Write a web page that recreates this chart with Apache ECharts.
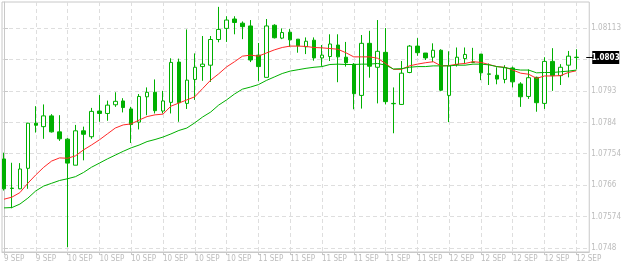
<!DOCTYPE html>
<html><head><meta charset="utf-8">
<script src="https://cdn.jsdelivr.net/npm/echarts@6/dist/echarts.min.js"></script>
<style>html,body{margin:0;padding:0;background:#fff}#c{width:624px;height:266px}</style>
</head><body><div id="c"></div>
<script>
const opens = [1.07737,1.07653,1.07651,1.07710,1.07840,1.07830,1.07861,1.07815,1.07794,1.07719,
1.07818,1.07801,1.07875,1.07868,1.07893,1.07904,1.07881,1.07843,1.07916,1.07929,
1.07875,1.07900,1.08016,1.07897,1.07966,1.08003,1.08007,1.08081,1.08113,1.08140,
1.08128,1.08120,1.08036,1.07972,1.08122,1.08085,1.08102,1.08082,1.08060,1.08079,
1.08028,1.08032,1.08065,1.08030,1.08010,1.07920,1.08070,1.08001,1.08044,1.07897,
1.07894,1.07986,1.08062,1.08042,1.08030,1.08050,1.07920,1.08009,1.08026,1.08016,
1.08039,1.07982,1.07978,1.07966,1.07999,1.07953,1.07917,1.07972,1.07897,1.08018,
1.07977,1.08007,1.08029];
const closes = [1.07651,1.07652,1.07708,1.07840,1.07834,1.07861,1.07815,1.07795,1.07725,1.07818,
1.07808,1.07874,1.07868,1.07892,1.07903,1.07885,1.07836,1.07917,1.07929,1.07876,
1.07904,1.08015,1.07899,1.07964,1.08001,1.08010,1.08081,1.08110,1.08137,1.08130,
1.08118,1.08022,1.08003,1.08120,1.08086,1.08101,1.08080,1.08063,1.08076,1.08028,
1.08036,1.08068,1.08031,1.08014,1.07925,1.08070,1.08004,1.08047,1.07902,1.07896,
1.07984,1.08062,1.08043,1.08028,1.08050,1.07935,1.08005,1.08030,1.08038,1.08015,
1.07985,1.07981,1.07967,1.08000,1.07959,1.07916,1.07971,1.07899,1.08018,1.07977,
1.08001,1.08033,1.08030];
const highs = [1.07755,1.07726,1.07725,1.07841,1.07889,1.07894,1.07866,1.07863,1.07797,1.07835,
1.07830,1.07884,1.07921,1.07905,1.07929,1.07912,1.07887,1.07924,1.07943,1.07966,
1.07933,1.08027,1.08026,1.08110,1.08041,1.08091,1.08091,1.08175,1.08148,1.08148,
1.08133,1.08137,1.08071,1.08140,1.08125,1.08113,1.08111,1.08082,1.08087,1.08087,
1.08065,1.08096,1.08096,1.08074,1.08013,1.08094,1.08106,1.08137,1.08114,1.07943,
1.08019,1.08065,1.08085,1.08042,1.08070,1.08053,1.08047,1.08058,1.08058,1.08057,
1.08039,1.08012,1.08001,1.08007,1.08003,1.07958,1.07995,1.07974,1.08030,1.08056,
1.08010,1.08048,1.08053];
const lows = [1.07646,1.07595,1.07650,1.07651,1.07813,1.07795,1.07813,1.07789,1.07483,1.07719,
1.07733,1.07795,1.07844,1.07847,1.07887,1.07871,1.07783,1.07822,1.07863,1.07868,
1.07868,1.07868,1.07844,1.07881,1.07907,1.07962,1.07959,1.08073,1.08074,1.08096,
1.08082,1.08016,1.07961,1.07972,1.08084,1.08082,1.08060,1.08043,1.08039,1.08020,
1.08005,1.08019,1.07958,1.08003,1.07880,1.07882,1.07971,1.07897,1.07894,1.07811,
1.07893,1.07984,1.08034,1.08022,1.08016,1.07932,1.07843,1.08003,1.08010,1.08013,
1.07964,1.07950,1.07952,1.07955,1.07943,1.07887,1.07910,1.07873,1.07881,1.07933,
1.07950,1.07972,1.07995];
const maRed = [1.07621,1.07627,1.07640,1.07667,1.07691,1.07713,1.07731,1.07740,1.07739,1.07746,
1.07763,1.07777,1.07792,1.07809,1.07826,1.07835,1.07838,1.07849,1.07859,1.07864,
1.07866,1.07889,1.07898,1.07907,1.07916,1.07940,1.07964,1.07982,1.08002,1.08017,
1.08033,1.08036,1.08033,1.08042,1.08051,1.08058,1.08062,1.08062,1.08061,1.08058,
1.08057,1.08055,1.08053,1.08043,1.08031,1.08031,1.08031,1.08027,1.08012,1.07995,
1.07995,1.08005,1.08010,1.08014,1.08017,1.08005,1.08006,1.08010,1.08012,1.08017,
1.08015,1.08009,1.08003,1.08001,1.07993,1.07984,1.07981,1.07969,1.07976,1.07976,
1.07977,1.07986,1.07991];
const maGreen = [1.07596,1.07597,1.07607,1.07624,1.07645,1.07659,1.07667,1.07675,1.07680,1.07686,
1.07698,1.07713,1.07725,1.07737,1.07748,1.07759,1.07769,1.07777,1.07787,1.07793,
1.07800,1.07809,1.07819,1.07826,1.07841,1.07858,1.07872,1.07892,1.07907,1.07924,
1.07938,1.07944,1.07951,1.07963,1.07973,1.07983,1.07990,1.07994,1.07998,1.08001,
1.08003,1.08009,1.08010,1.08009,1.08009,1.08010,1.08010,1.08012,1.08007,1.07996,
1.07997,1.08001,1.08003,1.08003,1.08005,1.08005,1.08005,1.08007,1.08007,1.08010,
1.08010,1.08008,1.08003,1.08000,1.07996,1.07993,1.07993,1.07985,1.07986,1.07986,
1.07988,1.07990,1.07993];
const xTickValues = [0,4,8,12,16,20,24,28,32,36,40,44,48,52,56,60,64,68,72];
const xLabels = ["9 SEP","9 SEP","10 SEP","10 SEP","10 SEP","10 SEP","10 SEP","10 SEP","11 SEP","11 SEP",
"11 SEP","11 SEP","11 SEP","11 SEP","12 SEP","12 SEP","12 SEP","12 SEP","12 SEP"];
const yTickValues = [1.0748,1.07571,1.07661,1.07752,1.07842,1.07933,1.08023,1.08113];
const yLabels = ["1.0748","1.07574","1.0766","1.07754","1.0784","1.0793","1.0802","1.08113"];
const lastPriceLabel = "1.0803";

const GREEN = '#00b000', RED = '#ff2828', GRAY = '#c8c8c8', LBL = '#bcbcbc';
const FONT = '"Liberation Sans Narrow","DejaVu Sans Condensed",sans-serif';

const candleData = opens.map((o, i) => [i, o, closes[i], lows[i], highs[i]]);
const redData = maRed.map((v, i) => [i, v]);
const greenData = maGreen.map((v, i) => [i, v]);

const chart = echarts.init(document.getElementById('c'), null, {renderer: 'canvas'});
chart.setOption({
  animation: false,
  backgroundColor: '#ffffff',
  grid: {left: 2, right: 31, top: 2, bottom: 14, show: true, borderColor: GRAY, borderWidth: 1, backgroundColor: '#fff'},
  xAxis: {
    type: 'value', min: -0.25, max: 73.625,
    axisLine: {show: true, onZero: false, lineStyle: {color: GRAY}},
    axisTick: {show: true, length: 3, customValues: xTickValues, lineStyle: {color: GRAY}},
    axisLabel: {customValues: xTickValues, formatter: v => xLabels[xTickValues.indexOf(v)],
      align: 'left', margin: 3, color: LBL, fontSize: 8, fontFamily: FONT},
    splitLine: {show: true, lineStyle: {color: '#dedede', type: [4, 3]}}
  },
  yAxis: {
    type: 'value', position: 'right', min: 1.07469, max: 1.08189, scale: true,
    axisLine: {show: true, lineStyle: {color: GRAY}},
    axisTick: {show: true, inside: false, length: 4, customValues: yTickValues, lineStyle: {color: GRAY}},
    axisLabel: {customValues: yTickValues, formatter: v => yLabels[yTickValues.indexOf(v)],
      margin: 2, color: LBL, fontSize: 8, fontFamily: FONT},
    splitLine: {show: true, lineStyle: {color: '#dedede', type: [4, 3]}}
  },
  series: [
    {type: 'candlestick', data: candleData, encode: {x: 0, y: [1, 2, 3, 4]}, barWidth: 4,
     itemStyle: {color: '#ffffff', color0: GREEN, borderColor: GREEN, borderColor0: GREEN, borderWidth: 1}, z: 2},
    {type: 'line', data: redData, showSymbol: false, symbol: 'none', lineStyle: {color: RED, width: 1}, z: 3},
    {type: 'line', data: greenData, showSymbol: false, symbol: 'none', lineStyle: {color: GREEN, width: 1}, z: 3}
  ]
});

const lastClose = closes[closes.length - 1];
const py = Math.round(chart.convertToPixel({yAxisIndex: 0}, lastClose));
const px = chart.convertToPixel({xAxisIndex: 0}, 73.625);
chart.setOption({
  graphic: [
    {type: 'line', z: 100, shape: {x1: px - 3, y1: py + 0.5, x2: px + 4, y2: py + 0.5}, style: {stroke: '#000', lineWidth: 1}},
    {type: 'rect', z: 100, shape: {x: px + 3, y: py - 6, width: 27, height: 13}, style: {fill: '#000'}},
    {type: 'text', z: 101, x: px + 16.5, y: py + 1, style: {text: lastPriceLabel, fill: '#fff', font: 'bold 8px ' + FONT, align: 'center', verticalAlign: 'middle'}}
  ]
});
</script></body></html>
